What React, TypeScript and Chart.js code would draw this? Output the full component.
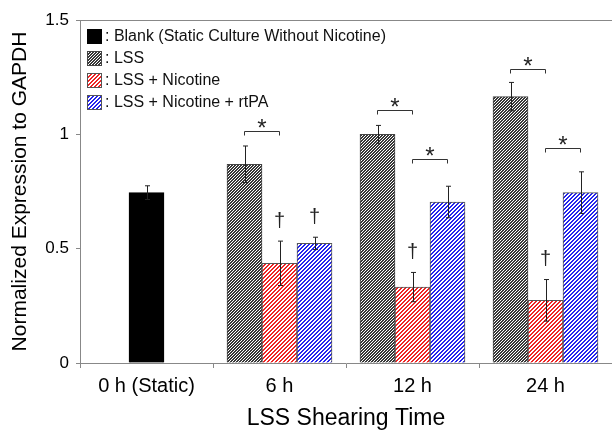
import React, { useEffect, useRef } from "react";
import { Chart, registerables } from "chart.js";

Chart.register(...registerables);

const FONT = "'Liberation Sans', Arial, Helvetica, sans-serif";

const categories = ["0 h (Static)", "6 h", "12 h", "24 h"];
const seriesLabels = [
  "Blank (Static Culture Without Nicotine)",
  "LSS",
  "LSS + Nicotine",
  "LSS + Nicotine + rtPA",
];
const blankValues = [0.745, null, null, null];
const lssValues = [null, 0.869, 1.0, 1.165];
const nicotineValues = [null, 0.436, 0.332, 0.274];
const rtpaValues = [null, 0.523, 0.704, 0.745];

const blankErrors = [0.03, null, null, null];
const lssErrors = [null, 0.08, 0.039, 0.062];
const nicotineErrors = [null, 0.097, 0.064, 0.091];
const rtpaErrors = [null, 0.027, 0.069, 0.091];

const yMin = 0;
const yMax = 1.5;
const yStep = 0.5;

// significance brackets (*)
const bracketCategory = [1, 2, 2, 3, 3];
const bracketFrom = [1, 1, 2, 1, 2];
const bracketTo = [2, 2, 3, 2, 3];
const bracketLevel = [1.016, 1.106, 0.893, 1.284, 0.941];

// daggers (†)
const daggerCategory = [1, 1, 2, 3];
const daggerSeries = [2, 3, 2, 2];

// pixel-exact "/" hatch: tile of `size`, `on` pixels of stripe per period
function makeHatch(color: string, size: number, on: number) {
  const c = document.createElement("canvas");
  c.width = size;
  c.height = size;
  const ctx = c.getContext("2d")!;
  ctx.fillStyle = "#ffffff";
  ctx.fillRect(0, 0, size, size);
  ctx.fillStyle = color;
  for (let x = 0; x < size; x++) {
    for (let y = 0; y < size; y++) {
      if ((x + y) % size < on) ctx.fillRect(x, y, 1, 1);
    }
  }
  return ctx.createPattern(c, "repeat")!;
}

export default function App() {
  const ref = useRef<HTMLCanvasElement>(null);

  useEffect(() => {
    const canvas = ref.current!;
    const grayHatch = makeHatch("#383838", 3, 2);
    const redHatch = makeHatch("#ee2424", 4, 2);
    const blueHatch = makeHatch("#2424ee", 4, 2);

    const values = [blankValues, lssValues, nicotineValues, rtpaValues];
    const errors = [blankErrors, lssErrors, nicotineErrors, rtpaErrors];
    const fills: any[] = ["#000000", grayHatch, redHatch, blueHatch];
    const borders = ["#000000", "#444444", "#555555", "#555555"];

    const annot = {
      id: "annot",
      afterDatasetsDraw(chart: any) {
        const ctx = chart.ctx;
        const ys = chart.scales.y;
        const area = chart.chartArea;
        ctx.save();
        // top frame line
        ctx.strokeStyle = "#888888";
        ctx.lineWidth = 1;
        ctx.beginPath();
        ctx.moveTo(area.left, Math.round(area.top) + 0.5);
        ctx.lineTo(area.right, Math.round(area.top) + 0.5);
        ctx.stroke();

        // error bars
        ctx.strokeStyle = "#222222";
        ctx.lineWidth = 1;
        values.forEach((vals, i) => {
          const meta = chart.getDatasetMeta(i);
          vals.forEach((v, j) => {
            const e = errors[i][j];
            if (v == null || e == null) return;
            const x = Math.round(meta.data[j].x) + 0.5;
            const yt = ys.getPixelForValue(v + e);
            const yb = ys.getPixelForValue(v - e);
            ctx.beginPath();
            ctx.moveTo(x, yt);
            ctx.lineTo(x, yb);
            ctx.moveTo(x - 2.5, yt);
            ctx.lineTo(x + 2.5, yt);
            ctx.moveTo(x - 2.5, yb);
            ctx.lineTo(x + 2.5, yb);
            ctx.stroke();
          });
        });

        // brackets
        ctx.strokeStyle = "#333333";
        ctx.fillStyle = "#222222";
        ctx.font = `24px ${FONT}`;
        ctx.textAlign = "center";
        ctx.textBaseline = "alphabetic";
        bracketCategory.forEach((c, k) => {
          const x1 = chart.getDatasetMeta(bracketFrom[k]).data[c].x;
          const x2 = chart.getDatasetMeta(bracketTo[k]).data[c].x;
          const y = Math.round(ys.getPixelForValue(bracketLevel[k])) + 0.5;
          ctx.beginPath();
          ctx.moveTo(x1, y + 4);
          ctx.lineTo(x1, y);
          ctx.lineTo(x2, y);
          ctx.lineTo(x2, y + 4);
          ctx.stroke();
          ctx.fillText("*", (x1 + x2) / 2, y + 4);
        });

        // daggers
        ctx.font = `20px ${FONT}`;
        ctx.textBaseline = "middle";
        daggerCategory.forEach((c, k) => {
          const s = daggerSeries[k];
          const x = chart.getDatasetMeta(s).data[c].x;
          const v = values[s][c] as number;
          const e = errors[s][c] as number;
          const y = ys.getPixelForValue(v + e) - 20;
          ctx.fillText("\u2020", x, y);
        });

        // legend
        ctx.font = `16px ${FONT}`;
        ctx.textAlign = "left";
        ctx.textBaseline = "middle";
        seriesLabels.forEach((label, i) => {
          const cy = area.top + 16 + i * 22;
          const bx = 87;
          const by = Math.round(cy - 7);
          ctx.fillStyle = fills[i];
          ctx.fillRect(bx, by, 15, 15);
          ctx.strokeStyle = borders[i];
          ctx.lineWidth = 1;
          ctx.strokeRect(bx + 0.5, by + 0.5, 14, 14);
          ctx.fillStyle = "#111111";
          ctx.fillText(": " + label, 105, cy + 1);
        });
        ctx.restore();
      },
    };

    const chart = new Chart(canvas, {
      type: "bar",
      data: {
        labels: categories,
        datasets: seriesLabels.map((l, i) => ({
          label: l,
          data: values[i] as any,
          backgroundColor: fills[i],
          borderColor: borders[i],
          borderWidth: 1,
          barThickness: 35,
        })),
      },
      options: {
        responsive: false,
        animation: false,
        devicePixelRatio: 1,
        skipNull: true,
        layout: { padding: { left: 0, right: -1, top: 20, bottom: 0 } },
        plugins: {
          legend: { display: false },
          tooltip: { enabled: false },
        },
        scales: {
          x: {
            offset: true,
            grid: {
              offset: true,
              drawOnChartArea: false,
              drawTicks: true,
              tickLength: 5,
              color: "#888888",
            },
            border: { display: true, color: "#888888", width: 1 },
            ticks: {
              color: "#000000",
              font: { family: FONT, size: 20 },
              padding: 6,
              maxRotation: 0,
            },
            title: {
              display: true,
              text: "LSS Shearing Time",
              color: "#000000",
              font: { family: FONT, size: 23 },
              padding: { top: 0, bottom: -2 },
            },
            afterFit(scale: any) {
              scale.height = 67;
            },
          },
          y: {
            min: yMin,
            max: yMax,
            grid: {
              drawOnChartArea: false,
              drawTicks: true,
              tickLength: 4,
              color: "#888888",
            },
            border: { display: true, color: "#888888", width: 1 },
            ticks: {
              stepSize: yStep,
              color: "#000000",
              font: { family: FONT, size: 17 },
              padding: 7,
              callback: (v: any) => String(Number(v)),
            },
            title: {
              display: true,
              text: "Normalized Expression to GAPDH",
              color: "#000000",
              font: { family: FONT, size: 21 },
              padding: { top: 8, bottom: 0 },
            },
            afterFit(scale: any) {
              scale.width = 80;
            },
          },
        },
      } as any,
      plugins: [annot],
    });
    return () => chart.destroy();
  }, []);

  return (
    <div
      style={{
        position: "absolute",
        left: 0,
        top: 0,
        width: 612,
        height: 430,
        background: "#ffffff",
      }}
    >
      <canvas ref={ref} width={612} height={430} style={{ display: "block" }} />
    </div>
  );
}
